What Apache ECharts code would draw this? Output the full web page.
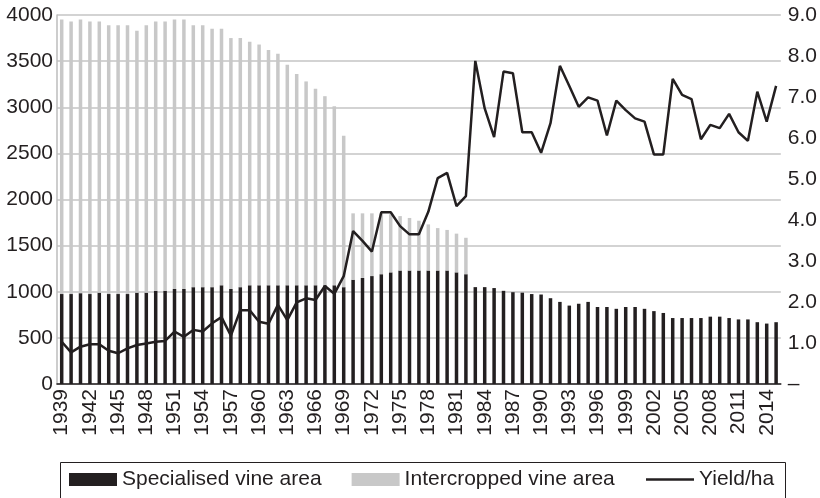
<!DOCTYPE html>
<html>
<head>
<meta charset="utf-8">
<script src="https://cdn.jsdelivr.net/npm/echarts@6/dist/echarts.min.js"></script>
<style>
    html, body { margin: 0; padding: 0; background: #fff; }
    #chart { width: 820px; height: 498px; }
</style>
</head>
<body>
<div id="chart"></div>
<script>
/* ===== Data ===== */
const years = [];
for (let y = 1939; y <= 2015; y++) years.push(String(y));

// Specialised vine area, 1939-2015
const specialised = [
    975, 975, 985, 975, 990, 975, 975, 975, 990, 990,
    1010, 1010, 1030, 1030, 1050, 1050, 1050, 1070, 1030, 1050,
    1070, 1070, 1070, 1070, 1070, 1070, 1070, 1070, 1070, 1070,
    1050, 1130, 1150, 1170, 1190, 1210, 1230, 1230, 1230, 1230,
    1230, 1230, 1210, 1190, 1050, 1050, 1040, 1010, 995, 990,
    975, 970, 930, 890, 850, 870, 890, 835, 835, 815,
    835, 835, 815, 790, 770, 715, 715, 715, 715, 730,
    730, 715, 700, 700, 670, 655, 670
];

// Intercropped vine area, 1939-1982 (none afterwards)
const intercropped = [
    2975, 2955, 2965, 2955, 2940, 2915, 2915, 2915, 2840, 2900,
    2920, 2920, 2920, 2920, 2840, 2840, 2800, 2780, 2720, 2700,
    2640, 2610, 2550, 2510, 2390, 2290, 2210, 2130, 2050, 1940,
    1640, 720, 700, 680, 660, 630, 590, 570, 540, 500,
    460, 440, 420, 395
];

// Yield per ha, 1939-2015
const yieldHa = [
    1.03, 0.77, 0.91, 0.97, 0.97, 0.81, 0.75, 0.87, 0.95, 0.99,
    1.03, 1.05, 1.28, 1.15, 1.32, 1.28, 1.48, 1.63, 1.18, 1.80,
    1.80, 1.52, 1.47, 1.93, 1.56, 1.99, 2.09, 2.05, 2.39, 2.20,
    2.63, 3.73, 3.49, 3.23, 4.19, 4.19, 3.85, 3.65, 3.65, 4.20,
    5.02, 5.15, 4.34, 4.58, 7.88, 6.72, 6.02, 7.62, 7.58, 6.14,
    6.14, 5.64, 6.36, 7.76, 7.27, 6.76, 6.99, 6.91, 6.06, 6.91,
    6.68, 6.48, 6.40, 5.60, 5.60, 7.44, 7.05, 6.95, 5.97, 6.32,
    6.24, 6.59, 6.14, 5.93, 7.13, 6.40, 7.27
];

const BLACK = '#231f20';
const GREY = '#c8c8c8';
const FONT = 'Liberation Sans, Arial, sans-serif';

/* ===== Chart ===== */
const chart = echarts.init(document.getElementById('chart'));

const option = {
    animation: false,
    textStyle: { fontFamily: FONT },
    grid: {
        left: 57,
        right: 37,
        top: 15,
        bottom: 114
    },
    legend: {
        left: 69,
        top: 469,
        padding: 0,
        itemWidth: 48,
        itemHeight: 13,
        itemGap: 30,
        textStyle: { fontSize: 21, color: BLACK, fontFamily: FONT },
        data: [
            { name: 'Specialised vine area', icon: 'rect' },
            { name: 'Intercropped vine area', icon: 'rect' },
            {
                name: 'Yield/ha',
                itemStyle: { opacity: 0 },
                lineStyle: { color: BLACK, width: 2.5 }
            }
        ]
    },
    graphic: [{
        type: 'rect',
        left: 58,
        top: 460,
        shape: { width: 725, height: 37 },
        style: { fill: 'none', stroke: BLACK, lineWidth: 1 },
        silent: true
    }],
    xAxis: {
        type: 'category',
        data: years,
        axisLine: { lineStyle: { color: BLACK, width: 1.5 } },
        axisTick: { show: false },
        axisLabel: {
            interval: 2,
            rotate: 90,
            margin: 5,
            color: BLACK,
            fontSize: 21
        }
    },
    yAxis: [{
        type: 'value',
        min: 0,
        max: 4000,
        interval: 500,
        axisLine: { show: true, lineStyle: { color: '#bdbdbd', width: 1.5 } },
        axisTick: { show: false },
        splitLine: { lineStyle: { color: '#c4c4c4', width: 1.5 } },
        axisLabel: {
            color: BLACK,
            fontSize: 21,
            margin: 4,
            formatter: v => String(v)
        }
    }, {
        type: 'value',
        min: 0,
        max: 9,
        interval: 1,
        axisLine: { show: false },
        axisTick: { show: false },
        splitLine: { show: false },
        axisLabel: {
            color: BLACK,
            fontSize: 21,
            margin: 7,
            formatter: v => (v === 0 ? '–' : v.toFixed(1))
        }
    }],
    series: [{
        name: 'Specialised vine area',
        type: 'bar',
        stack: 'area',
        barWidth: 3.5,
        itemStyle: { color: BLACK },
        data: specialised
    }, {
        name: 'Intercropped vine area',
        type: 'bar',
        stack: 'area',
        barWidth: 3.5,
        itemStyle: { color: GREY },
        data: intercropped
    }, {
        name: 'Yield/ha',
        type: 'line',
        yAxisIndex: 1,
        symbol: 'none',
        z: 5,
        lineStyle: { color: BLACK, width: 2.5 },
        itemStyle: { color: BLACK },
        data: yieldHa
    }]
};

chart.setOption(option);
window.addEventListener('resize', () => chart.resize());
</script>
</body>
</html>
